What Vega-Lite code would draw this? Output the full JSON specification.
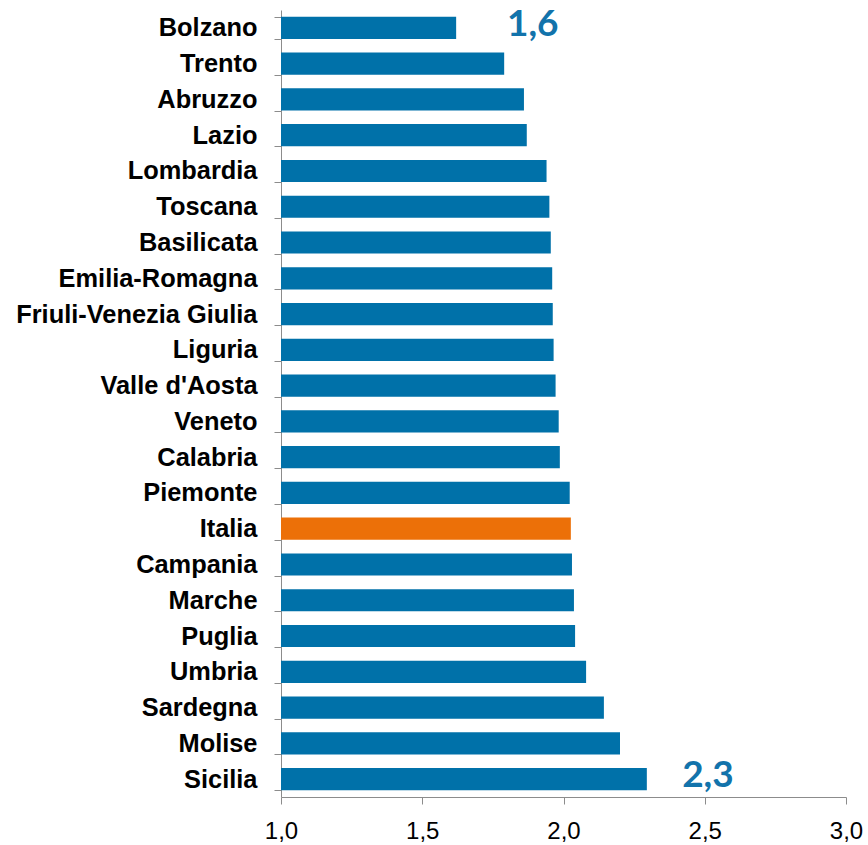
{
  "$schema": "https://vega.github.io/schema/vega-lite/v6.json",
  "autosize": {"type": "none"},
  "width": 565,
  "height": 787,
  "padding": {"left": 281, "top": 10, "right": 22, "bottom": 48},
  "background": "white",
  "config": {"view": {"stroke": null}},
  "datasets": {
    "regions": [
      {"regione": "Bolzano", "valore": 1.62, "tipo": "regione"},
      {"regione": "Trento", "valore": 1.79, "tipo": "regione"},
      {"regione": "Abruzzo", "valore": 1.86, "tipo": "regione"},
      {"regione": "Lazio", "valore": 1.87, "tipo": "regione"},
      {"regione": "Lombardia", "valore": 1.94, "tipo": "regione"},
      {"regione": "Toscana", "valore": 1.95, "tipo": "regione"},
      {"regione": "Basilicata", "valore": 1.955, "tipo": "regione"},
      {"regione": "Emilia-Romagna", "valore": 1.96, "tipo": "regione"},
      {"regione": "Friuli-Venezia Giulia", "valore": 1.962, "tipo": "regione"},
      {"regione": "Liguria", "valore": 1.965, "tipo": "regione"},
      {"regione": "Valle d'Aosta", "valore": 1.972, "tipo": "regione"},
      {"regione": "Veneto", "valore": 1.983, "tipo": "regione"},
      {"regione": "Calabria", "valore": 1.987, "tipo": "regione"},
      {"regione": "Piemonte", "valore": 2.022, "tipo": "regione"},
      {"regione": "Italia", "valore": 2.026, "tipo": "italia"},
      {"regione": "Campania", "valore": 2.03, "tipo": "regione"},
      {"regione": "Marche", "valore": 2.037, "tipo": "regione"},
      {"regione": "Puglia", "valore": 2.041, "tipo": "regione"},
      {"regione": "Umbria", "valore": 2.08, "tipo": "regione"},
      {"regione": "Sardegna", "valore": 2.143, "tipo": "regione"},
      {"regione": "Molise", "valore": 2.2, "tipo": "regione"},
      {"regione": "Sicilia", "valore": 2.295, "tipo": "regione"}
    ],
    "notes": [
      {"regione": "Bolzano", "pos": 1.8, "testo": "1,6"},
      {"regione": "Sicilia", "pos": 2.42, "testo": "2,3"}
    ]
  },
  "layer": [
    {
      "data": {"name": "regions"},
      "mark": {"type": "bar"},
      "encoding": {
        "y": {
          "field": "regione",
          "type": "nominal",
          "sort": null,
          "scale": {"paddingInner": 0.38, "paddingOuter": 0.19},
          "axis": {
            "title": null,
            "domainColor": "#8c8c8c",
            "tickColor": "#8c8c8c",
            "tickBand": "extent",
            "tickSize": 7,
            "labelPadding": 17,
            "labelFont": "Arial",
            "labelFontWeight": "bold",
            "labelFontSize": 25.4,
            "labelLimit": 300,
            "labelColor": "#000000"
          }
        },
        "x": {
          "field": "valore",
          "type": "quantitative",
          "scale": {"domain": [1, 3], "zero": false, "nice": false},
          "axis": {
            "title": null,
            "values": [1, 1.5, 2, 2.5, 3],
            "labelExpr": "replace(format(datum.value, '.1f'), '.', ',')",
            "grid": false,
            "domainColor": "#8c8c8c",
            "tickColor": "#8c8c8c",
            "tickSize": 7,
            "labelPadding": 15,
            "labelFont": "Arial",
            "labelFontSize": 24,
            "labelColor": "#000000",
            "labelFlush": false
          }
        },
        "x2": {"datum": 1},
        "color": {
          "field": "tipo",
          "type": "nominal",
          "scale": {"domain": ["regione", "italia"], "range": ["#0071A9", "#EC7008"]},
          "legend": null
        }
      }
    },
    {
      "data": {"name": "notes"},
      "mark": {
        "type": "text",
        "align": "left",
        "baseline": "middle",
        "font": "Lato",
        "fontWeight": "bold",
        "fontSize": 37,
        "color": "#1273AB",
        "dy": -3
      },
      "encoding": {
        "y": {"field": "regione", "type": "nominal", "sort": null},
        "x": {"field": "pos", "type": "quantitative"},
        "text": {"field": "testo"}
      }
    }
  ]
}
